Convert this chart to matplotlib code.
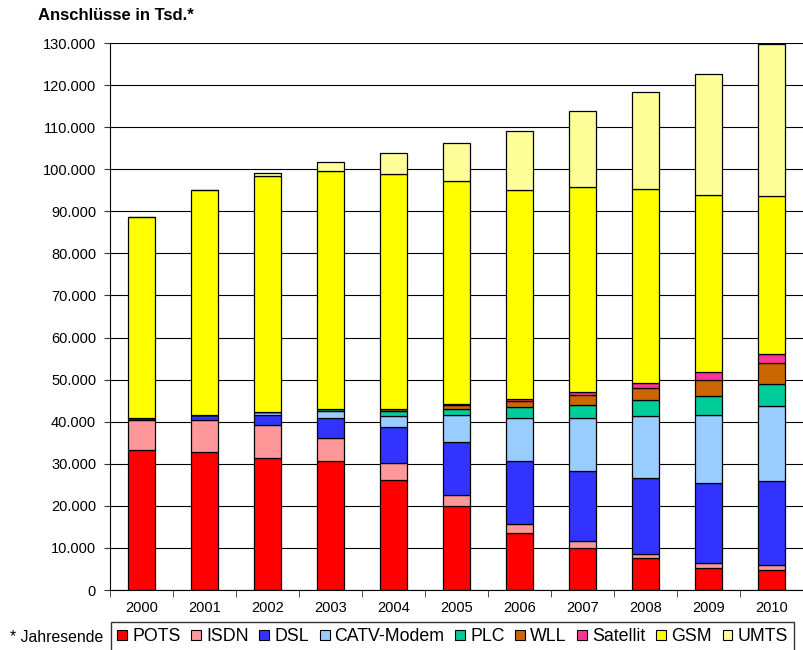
#! /usr/bin/env python3

import matplotlib
matplotlib.use('Agg')
import matplotlib.pyplot as plt
import matplotlib.ticker as ticker
from matplotlib.patches import Patch

plt.rcParams['font.family'] = ['Liberation Sans', 'DejaVu Sans']

# Years (end of year)
years = ['2000', '2001', '2002', '2003', '2004', '2005',
         '2006', '2007', '2008', '2009', '2010']

# Connections in thousands per access technology
pots = [33300, 32700, 31300, 30700, 26100, 20000, 13500, 10100, 7500, 5300, 4750]
isdn = [7100, 7700, 7900, 5500, 4000, 2600, 2300, 1600, 1100, 1100, 1150]
dsl = [400, 1100, 2300, 4700, 8600, 12600, 14900, 16500, 17900, 19000, 20000]
catv = [100, 100, 700, 1700, 2700, 6300, 10200, 12700, 14800, 16100, 17800]
plc = [0, 0, 100, 300, 1100, 1400, 2500, 3100, 3900, 4500, 5200]
wll = [0, 0, 100, 200, 400, 1100, 1400, 2300, 2700, 3900, 5000]
satellit = [0, 0, 0, 0, 100, 300, 600, 700, 1200, 1800, 2100]
gsm = [47800, 53400, 56000, 56400, 55900, 52900, 49600, 48800, 46100, 42200, 37600]
umts = [0, 0, 800, 2300, 4900, 9000, 14200, 18100, 23200, 28800, 36200]

series = [pots, isdn, dsl, catv, plc, wll, satellit, gsm, umts]
labels = ['POTS', 'ISDN', 'DSL', 'CATV-Modem', 'PLC', 'WLL', 'Satellit', 'GSM', 'UMTS']
colors = ['#FF0000', '#FF9999', '#3333FF', '#99CCFF', '#00CC99',
          '#CC6600', '#FF3399', '#FFFF00', '#FFFF99']

#------------------------------------------------------------------------------
# Stacked bars
#------------------------------------------------------------------------------

fig = plt.figure(figsize=(8.04, 6.5), dpi=100)
ax = fig.add_axes([110 / 804, 60 / 650, 693 / 804, 547 / 650])

x = list(range(len(years)))
bottom = [0] * len(years)
for values, label, color in zip(series, labels, colors):
    ax.bar(x, values, width=0.415, bottom=bottom, color=color,
           edgecolor='black', linewidth=0.9, label=label, zorder=2)
    bottom = [b + v for b, v in zip(bottom, values)]

# Axis limits and ticks
ax.set_xlim(-0.5, len(years) - 0.5)
ax.set_ylim(0, 130000)
ax.yaxis.set_major_locator(ticker.MultipleLocator(10000))
ax.yaxis.set_major_formatter(ticker.FuncFormatter(
    lambda v, pos: '{:,.0f}'.format(v).replace(',', '.')))
ax.set_xticks(x)
ax.set_xticklabels(years)
ax.set_xticks([i + 0.5 for i in range(-1, len(years))], minor=True)
ax.tick_params(axis='x', which='major', length=0, pad=8, labelsize=10.5)
ax.tick_params(axis='x', which='minor', length=5, direction='out', color='#333333')
ax.tick_params(axis='y', length=4, direction='out', color='#333333', labelsize=10.5, pad=6)

# Grid
ax.grid(True, axis='y', color='black', linewidth=0.8, zorder=0)
ax.set_axisbelow(True)

# Borders
ax.spines['top'].set_visible(False)
ax.spines['right'].set_visible(False)
ax.spines['left'].set_color('black')
ax.spines['bottom'].set_color('black')

# Title
fig.text(38 / 804, 1 - 15 / 650, 'Anschlüsse in Tsd.*', fontsize=12,
         fontweight='bold', va='center', ha='left')

# Legend
handles = [Patch(facecolor=c, edgecolor='black', linewidth=0.8) for c in colors]
leg = fig.legend(handles, labels, loc='upper left', ncol=len(labels),
                 bbox_to_anchor=(111 / 804, 1 - 622 / 650), fontsize=12.8,
                 frameon=True, fancybox=False, edgecolor='black',
                 handlelength=0.56, handleheight=0.56, handletextpad=0.28,
                 columnspacing=0.6, borderpad=0.35, borderaxespad=0)
leg.get_frame().set_linewidth(1.0)

fig.text(10 / 804, 1 - 637 / 650, '* Jahresende', fontsize=11.3, va='center', ha='left')

# Save figure
plt.savefig('out.png', dpi=100)
